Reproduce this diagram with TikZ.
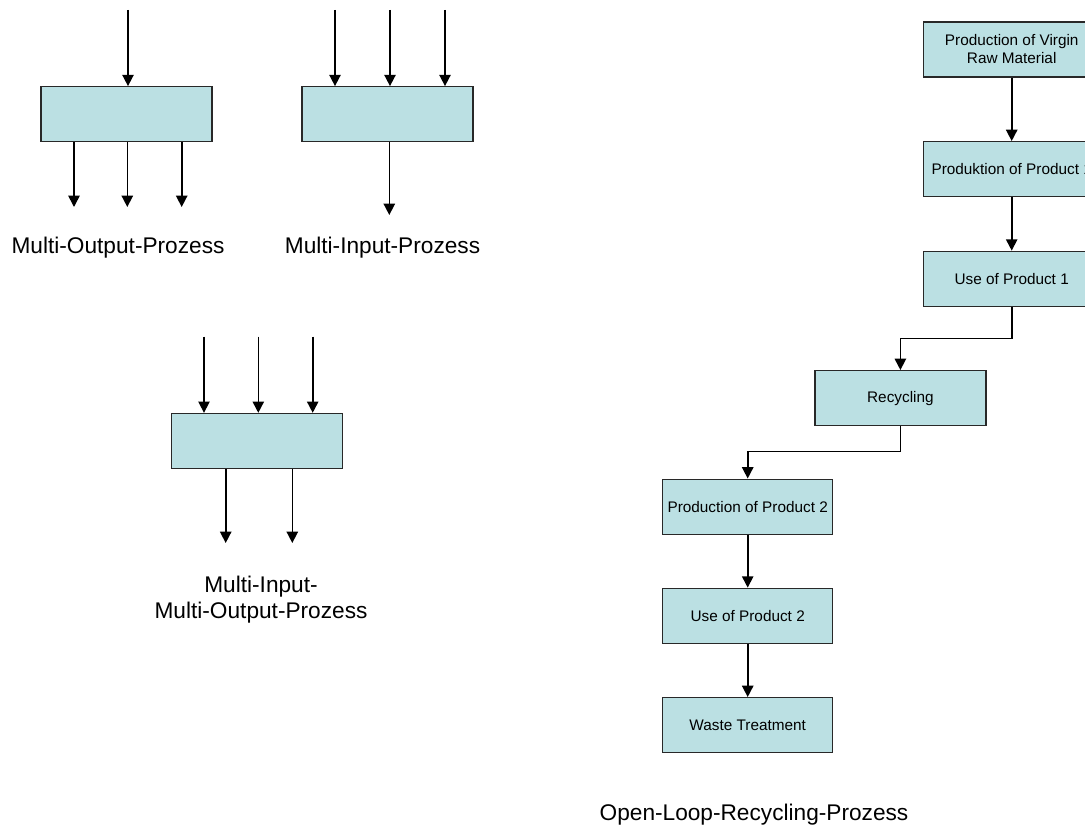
\documentclass[tikz,border=0pt]{standalone}
\usepackage{fontspec}
\setmainfont{Liberation Sans}
\usetikzlibrary{arrows.meta}
\definecolor{boxfill}{RGB}{187,224,227}
\definecolor{boxline}{RGB}{40,40,40}
\tikzset{
  procbox/.style={draw=boxline, line width=1pt, fill=boxfill, rectangle,
    minimum width=128.25pt, minimum height=41.25pt, inner sep=0pt,
    font=\fontsize{11.5}{13.5}\selectfont, align=center},
  wide/.style={minimum width=132.75pt},
  flow/.style={line width=1.2pt, -{Triangle[length=8.5pt,width=8.5pt]}},
  caption/.style={font=\fontsize{17}{19.2}\selectfont, align=center, inner sep=0pt}
}
\begin{document}
\begin{tikzpicture}[x=0.75pt, y=-0.75pt]
\useasboundingbox (0,0) rectangle (1085,827);
\clip (0,0) rectangle (1085,827);

% Multi-output process
\node[procbox] (A) at (126.5,114.3) {};
\coordinate (ain) at (128,10);
\coordinate (aout1) at (74,207);
\coordinate (aout2) at (127.3,207);
\coordinate (aout3) at (181.7,207);
\draw[flow] (ain) -- (ain |- A.north);
\draw[flow] (A.south -| aout1) -- (aout1);
\draw[flow] (A.south -| aout2) -- (aout2);
\draw[flow] (A.south -| aout3) -- (aout3);
\node[caption] (Alab) at (118,248) {Multi-Output-Prozess};

% Multi-input process
\node[procbox] (B) at (387.5,114.3) {};
\coordinate (bin1) at (335,10);
\coordinate (bin2) at (390,10);
\coordinate (bin3) at (445,10);
\coordinate (bout) at (389.3,215);
\draw[flow] (bin1) -- (bin1 |- B.north);
\draw[flow] (bin2) -- (bin2 |- B.north);
\draw[flow] (bin3) -- (bin3 |- B.north);
\draw[flow] (B.south -| bout) -- (bout);
\node[caption] (Blab) at (382.5,248) {Multi-Input-Prozess};

% Multi-input multi-output process
\node[procbox] (C) at (257,441) {};
\coordinate (cin1) at (204,336.7);
\coordinate (cin2) at (258.3,336.7);
\coordinate (cin3) at (312.7,336.7);
\coordinate (cout1) at (225.7,543);
\coordinate (cout2) at (292.3,543);
\draw[flow] (cin1) -- (cin1 |- C.north);
\draw[flow] (cin2) -- (cin2 |- C.north);
\draw[flow] (cin3) -- (cin3 |- C.north);
\draw[flow] (C.south -| cout1) -- (cout1);
\draw[flow] (C.south -| cout2) -- (cout2);
\node[caption] (Clab) at (261,599.5) {Multi-Input-\\Multi-Output-Prozess};

% Open-loop recycling chain
\node[procbox, wide] (virgin) at (1011.7,49.5) {Production of Virgin\\Raw Material};
\node[procbox, wide] (prod1) at (1011.7,169.2) {Produktion of Product 1};
\node[procbox, wide] (use1) at (1011.7,278.8) {Use of Product 1};
\node[procbox] (recyc) at (900.4,398.2) {Recycling};
\node[procbox, minimum width=127.5pt] (prod2) at (747.7,506.7) {Production of Product 2};
\node[procbox, minimum width=127.5pt] (use2) at (747.7,615.8) {Use of Product 2};
\node[procbox, minimum width=127.5pt] (waste) at (747.7,725.2) {Waste Treatment};

\draw[flow] (virgin) -- (prod1);
\draw[flow] (prod1) -- (use1);
\draw[flow] (use1.south) -- ++(0,31.7) -| (recyc.north);
\draw[flow] (recyc.south) -- ++(0,25.3) -| (prod2.north);
\draw[flow] (prod2) -- (use2);
\draw[flow] (use2) -- (waste);

\node[caption] (openlab) at (754,815) {Open-Loop-Recycling-Prozess};
\end{tikzpicture}
\end{document}
